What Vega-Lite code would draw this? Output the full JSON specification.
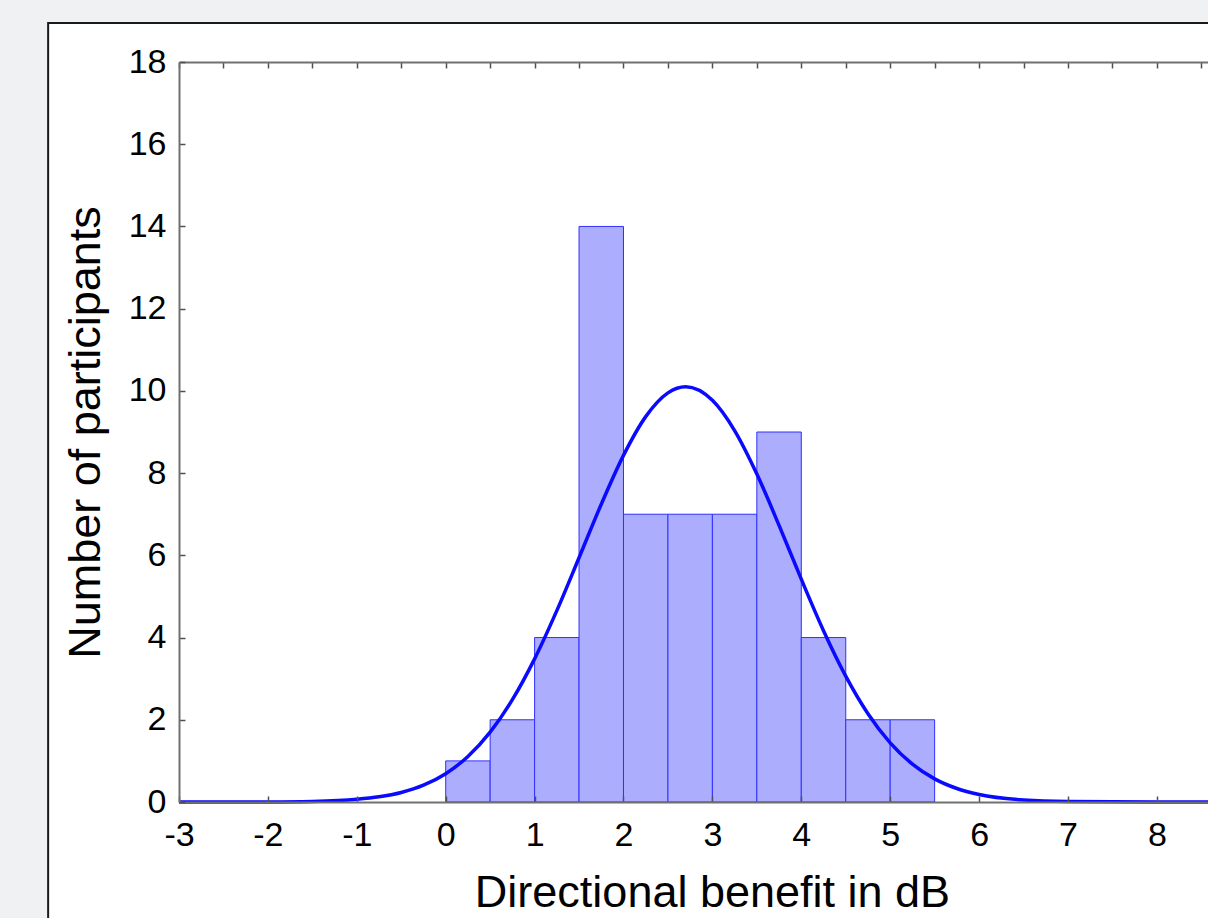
{
  "$schema": "https://vega.github.io/schema/vega-lite/v6.json",
  "width": 1029,
  "height": 740,
  "autosize": {"type": "none"},
  "padding": {"left": 179, "top": 62, "right": 0, "bottom": 116},
  "background": "#f0f1f3",
  "config": {
    "view": {"stroke": null},
    "axis": {
      "labelFont": "Liberation Sans",
      "titleFont": "Liberation Sans",
      "labelColor": "#000000",
      "titleColor": "#000000",
      "labelFontSize": 34,
      "titleFontSize": 45,
      "titleFontWeight": "normal",
      "labelFlush": false,
      "labelOverlap": false,
      "domainColor": "#707070",
      "domainWidth": 2,
      "tickColor": "#505050",
      "tickWidth": 1.5,
      "grid": false
    }
  },
  "datasets": {
    "panel": [{"x0": -4.472, "x1": 9.5, "y0": -4, "y1": 18.95}],
    "bins": [
      {"start": 0.0, "end": 0.5, "count": 1},
      {"start": 0.5, "end": 1.0, "count": 2},
      {"start": 1.0, "end": 1.5, "count": 4},
      {"start": 1.5, "end": 2.0, "count": 14},
      {"start": 2.0, "end": 2.5, "count": 7},
      {"start": 2.5, "end": 3.0, "count": 7},
      {"start": 3.0, "end": 3.5, "count": 7},
      {"start": 3.5, "end": 4.0, "count": 9},
      {"start": 4.0, "end": 4.5, "count": 4},
      {"start": 4.5, "end": 5.0, "count": 2},
      {"start": 5.0, "end": 5.5, "count": 2}
    ],
    "curve": [
      {"x": -3, "y": 0.0001},
      {"x": -2, "y": 0.003},
      {"x": -1.5, "y": 0.015},
      {"x": -1, "y": 0.065},
      {"x": -0.75, "y": 0.126},
      {"x": -0.5, "y": 0.232},
      {"x": -0.25, "y": 0.409},
      {"x": 0, "y": 0.689},
      {"x": 0.25, "y": 1.107},
      {"x": 0.5, "y": 1.698},
      {"x": 0.75, "y": 2.489},
      {"x": 1, "y": 3.482},
      {"x": 1.25, "y": 4.655},
      {"x": 1.5, "y": 5.942},
      {"x": 1.75, "y": 7.243},
      {"x": 2, "y": 8.431},
      {"x": 2.25, "y": 9.374},
      {"x": 2.5, "y": 9.952},
      {"x": 2.7, "y": 10.1},
      {"x": 3, "y": 9.771},
      {"x": 3.25, "y": 9.035},
      {"x": 3.5, "y": 7.978},
      {"x": 3.75, "y": 6.729},
      {"x": 4, "y": 5.42},
      {"x": 4.25, "y": 4.168},
      {"x": 4.5, "y": 3.062},
      {"x": 4.75, "y": 2.147},
      {"x": 5, "y": 1.438},
      {"x": 5.25, "y": 0.92},
      {"x": 5.5, "y": 0.562},
      {"x": 5.75, "y": 0.328},
      {"x": 6, "y": 0.183},
      {"x": 6.5, "y": 0.049},
      {"x": 7, "y": 0.011},
      {"x": 8, "y": 0.0003},
      {"x": 8.575, "y": 0}
    ]
  },
  "layer": [
    {
      "data": {"name": "panel"},
      "mark": {"type": "rect", "fill": "#ffffff", "stroke": "#1a1a1a", "strokeWidth": 2, "clip": false},
      "encoding": {
        "x": {"field": "x0", "type": "quantitative", "scale": {"domain": [-3, 8.575], "nice": false, "zero": false}, "axis": null},
        "x2": {"field": "x1"},
        "y": {"field": "y0", "type": "quantitative", "scale": {"domain": [0, 18], "nice": false}, "axis": null},
        "y2": {"field": "y1"}
      }
    },
    {
      "data": {"name": "bins"},
      "mark": {"type": "rect", "fill": "#adadfd", "stroke": "#3030ff", "strokeWidth": 1},
      "encoding": {
        "x": {
          "field": "start", "type": "quantitative",
          "axis": {
            "orient": "bottom",
            "zindex": 2,
            "title": "Directional benefit in dB",
            "values": [-3, -2, -1, 0, 1, 2, 3, 4, 5, 6, 7, 8],
            "labelExpr": "replace(datum.label, '\u2212', '-')",
            "tickSize": -6,
            "labelPadding": 22,
            "titlePadding": 18,
            "titleX": 533
          }
        },
        "x2": {"field": "end"},
        "y": {
          "field": "count", "type": "quantitative",
          "axis": {
            "orient": "left",
            "zindex": 2,
            "title": "Number of participants",
            "values": [0, 2, 4, 6, 8, 10, 12, 14, 16, 18],
            "tickSize": -6,
            "labelPadding": 19,
            "titlePadding": 20
          }
        },
        "y2": {"datum": 0}
      }
    },
    {
      "data": {"name": "curve"},
      "mark": {"type": "line", "color": "#0a0aff", "strokeWidth": 3.5, "interpolate": "monotone"},
      "encoding": {
        "x": {
          "field": "x", "type": "quantitative",
          "axis": {
            "orient": "top",
            "zindex": 2,
            "title": null,
            "labels": false,
            "values": [-3, -2.5, -2, -1.5, -1, -0.5, 0, 0.5, 1, 1.5, 2, 2.5, 3, 3.5, 4, 4.5, 5, 5.5, 6, 6.5, 7, 7.5, 8, 8.5],
            "tickSize": -6
          }
        },
        "y": {"field": "y", "type": "quantitative", "axis": null}
      }
    }
  ],
  "resolve": {"axis": {"x": "independent", "y": "independent"}}
}
